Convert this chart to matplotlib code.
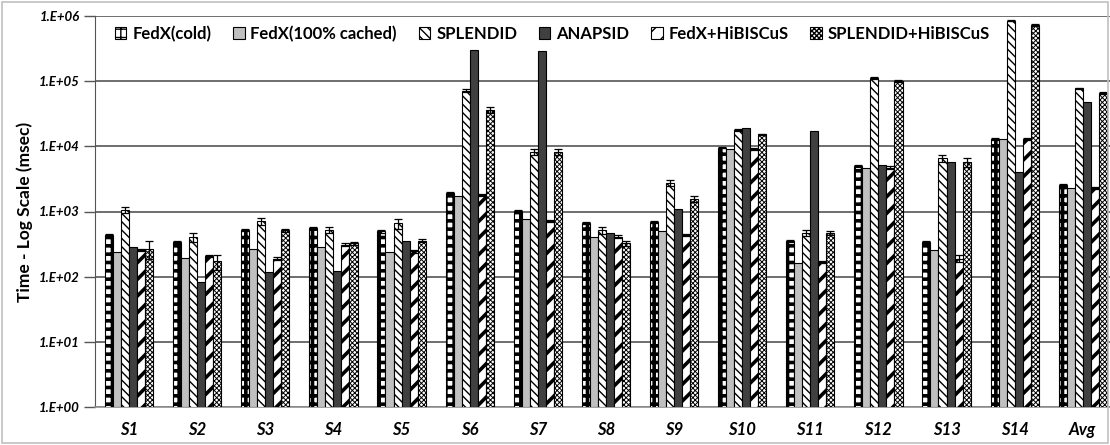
import matplotlib
matplotlib.use("Agg")
import matplotlib.pyplot as plt
import numpy as np
from matplotlib.patches import Rectangle

categories = ["S1", "S2", "S3", "S4", "S5", "S6", "S7", "S8", "S9", "S10",
              "S11", "S12", "S13", "S14", "Avg"]
series_names = ["FedX(cold)", "FedX(100% cached)", "SPLENDID", "ANAPSID",
                "FedX+HiBISCuS", "SPLENDID+HiBISCuS"]

fedx_cold = [440, 339, 517, 556, 494, 1888, 1000, 671, 687, 9550,
             357, 5060, 339, 12970, 2560]
fedx_cached = [238, 193, 269, 281, 238, 1758, 773, 400, 506, 9120,
               160, 4720, 256, 12970, 2270]
splendid = [1050, 400, 703, 517, 655, 71900, 8280, 517, 2750, 18000,
            472, 112000, 6550, 849000, 77300]
anapsid = [284, 83, 118, 121, 357, 302000, 294000, 472, 1074, 18800,
           17200, 5190, 5820, 4000, 47100]
fedx_hib = [256, 207, 189, 309, 244, 1803, 721, 410, 440, 9120,
            167, 4720, 189, 12970, 2270]
splendid_hib = [269, 172, 517, 324, 357, 36400, 8280, 324, 1563, 15270,
                472, 100000, 5690, 736000, 65600]

# relative error (fraction of value)
err_cold = [0.04, 0.04, 0.04, 0.04, 0.04, 0.04, 0.04, 0.04, 0.04, 0.03,
            0.04, 0.04, 0.04, 0.03, 0.03]
err_cached = [0, 0, 0, 0, 0, 0, 0, 0, 0, 0, 0, 0, 0, 0, 0]
err_spl = [0.10, 0.15, 0.12, 0.10, 0.18, 0.06, 0.10, 0.12, 0.10, 0.03,
           0.10, 0.04, 0.12, 0.03, 0.03]
err_ana = [0, 0, 0, 0, 0, 0, 0, 0, 0, 0, 0, 0, 0, 0, 0]
err_fhib = [0.04, 0.04, 0.06, 0.06, 0.05, 0.04, 0.04, 0.06, 0.04, 0.03,
            0.04, 0.04, 0.12, 0.03, 0.03]
err_shib = [0.30, 0.26, 0.05, 0.04, 0.05, 0.12, 0.10, 0.08, 0.12, 0.03,
            0.08, 0.04, 0.15, 0.03, 0.03]

values = [fedx_cold, fedx_cached, splendid, anapsid, fedx_hib, splendid_hib]
errors = [err_cold, err_cached, err_spl, err_ana, err_fhib, err_shib]

styles = [
    dict(facecolor="white", hatch="++", hlw=2.6),
    dict(facecolor="#c0c0c0", hatch=None, hlw=1.0),
    dict(facecolor="white", hatch="\\\\\\\\", hlw=1.0),
    dict(facecolor="#404040", hatch=None, hlw=1.0),
    dict(facecolor="white", hatch="//", hlw=2.6),
    dict(facecolor="white", hatch="xxxxxxx", hlw=0.7),
]

plt.rcParams["font.family"] = ["Lato", "DejaVu Sans"]

fig = plt.figure(figsize=(11.1, 4.45), dpi=100)
ax = fig.add_axes([95 / 1110, 1 - 407 / 445, 1 - 95 / 1110, (407 - 16) / 445])

x = np.arange(len(categories))
w = 0.118
handles = []
for i, (vals, errs, st) in enumerate(zip(values, errors, styles)):
    v = np.array(vals, dtype=float)
    e = np.array(errs) * v
    with plt.rc_context({"hatch.linewidth": st["hlw"]}):
        bars = ax.bar(x + (i - 2.5) * w, v, width=w, bottom=1,
                      facecolor=st["facecolor"], edgecolor="black",
                      linewidth=0.8, hatch=st["hatch"], zorder=3,
                      label=series_names[i])
    mask = e > 0
    if mask.any():
        ax.errorbar((x + (i - 2.5) * w)[mask], v[mask], yerr=e[mask],
                    fmt="none", ecolor="black", elinewidth=0.9,
                    capsize=3, capthick=0.9, zorder=4)
    handles.append(bars)

ax.set_yscale("log")
ax.set_ylim(1, 1e6)
ax.set_xlim(-0.5, 14.4)
ax.set_yticks([1, 10, 100, 1e3, 1e4, 1e5, 1e6])
ax.set_yticklabels(["1.E+00", "1.E+01", "1.E+02", "1.E+03", "1.E+04",
                    "1.E+05", "1.E+06"], fontsize=9.5, fontweight="bold",
                   fontstyle="italic")
ax.minorticks_off()
ax.yaxis.grid(True, color="#555555", linewidth=1.2, zorder=0)
ax.set_axisbelow(True)
ax.tick_params(axis="y", length=8, width=1, color="#555555", pad=3)
ax.set_xticks(x)
ax.set_xticklabels(categories, fontsize=12, fontweight="bold",
                   fontstyle="italic")
ax.tick_params(axis="x", length=0, pad=11)
for s in ["top", "right"]:
    ax.spines[s].set_visible(False)
ax.spines["left"].set_color("#555555")
ax.spines["bottom"].set_color("#909090")
ax.spines["bottom"].set_linewidth(1.2)

ax.set_ylabel("Time - Log Scale (msec)", fontsize=12.5, fontweight="bold",
              labelpad=4)

leg = ax.legend(handles=handles, loc="upper left", ncol=6,
                bbox_to_anchor=(0.008, 1.005), frameon=False,
                prop=dict(size=12, weight="bold"),
                handlelength=0.7, handleheight=0.7, handletextpad=0.35,
                columnspacing=1.3, borderaxespad=0.3)

fig.add_artist(Rectangle((0.002, 0.004), 0.996, 0.992, transform=fig.transFigure,
                         fill=False, edgecolor="#c0c0c0", linewidth=1.2))

fig.savefig("out.png", dpi=100)
